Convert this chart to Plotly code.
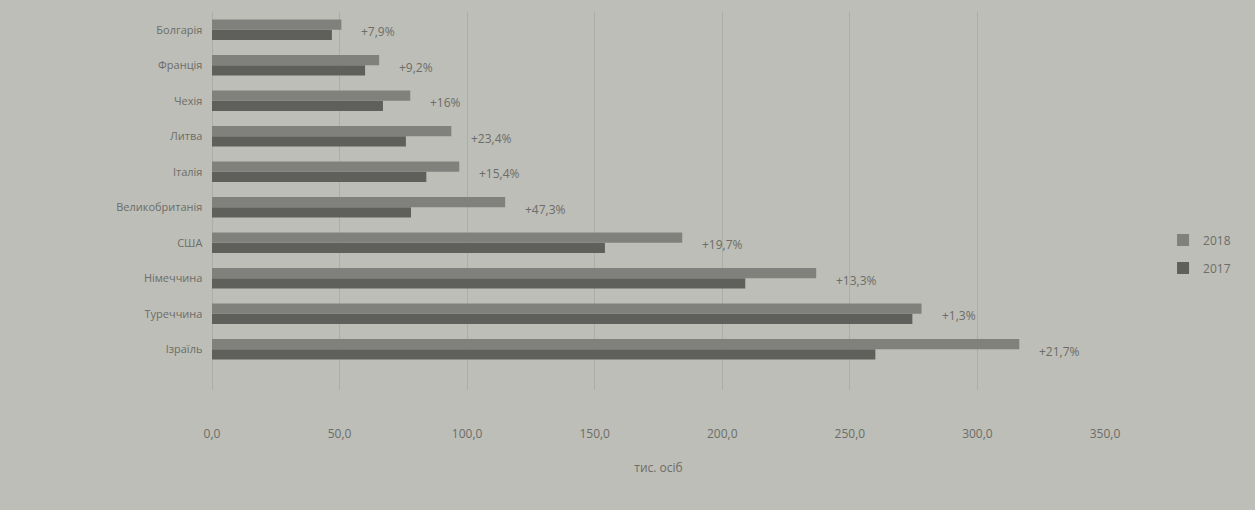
import plotly.graph_objects as go

# Countries, bottom-to-top order on the category axis
countries = ["Ізраїль", "Туреччина", "Німеччина", "США", "Великобританія",
             "Італія", "Литва", "Чехія", "Франція", "Болгарія"]

# Visitors, thousand persons
visitors_2017 = [260.0, 274.5, 209.0, 154.0, 78.0, 84.0, 76.0, 67.0, 60.0, 47.0]
visitors_2018 = [316.4, 278.1, 236.8, 184.3, 114.9, 96.9, 93.8, 77.7, 65.5, 50.7]

# Year-on-year change labels
change_labels = ["+21,7%", "+1,3%", "+13,3%", "+19,7%", "+47,3%",
                 "+15,4%", "+23,4%", "+16%", "+9,2%", "+7,9%"]

x_ticks = [0, 50, 100, 150, 200, 250, 300, 350]
x_tick_text = ["0,0", "50,0", "100,0", "150,0", "200,0", "250,0", "300,0", "350,0"]

BG = "#bdbeb7"
TEXT = "#6c6d68"
FONT = "Open Sans"

fig = go.Figure()
fig.add_trace(go.Bar(
    y=countries, x=visitors_2017, orientation="h", name="2017",
    legendgroup="y2017", legendrank=2,
    marker=dict(color="#5f605c", line=dict(width=0)),
))
fig.add_trace(go.Bar(
    y=countries, x=visitors_2018, orientation="h", name="2018",
    legendgroup="y2018", legendrank=1,
    marker=dict(color="#80817c", line=dict(width=0)),
))

for c, v, lab in zip(countries, visitors_2018, change_labels):
    fig.add_annotation(
        x=v, y=c, text=lab, showarrow=False, xanchor="left", yanchor="middle",
        xshift=18, yshift=-2, font=dict(family=FONT, size=12, color=TEXT),
    )

fig.update_layout(
    width=1255, height=510,
    margin=dict(l=212, r=150, t=12, b=120),
    paper_bgcolor=BG, plot_bgcolor=BG,
    barmode="group", bargap=0.42, bargroupgap=0.0,
    font=dict(family=FONT, size=12, color=TEXT),
    showlegend=True,
    legend=dict(
        x=1.065, y=0.36, xanchor="left", yanchor="middle",
        traceorder="grouped", bgcolor="rgba(0,0,0,0)",
        font=dict(family=FONT, size=12, color=TEXT),
        itemwidth=30, tracegroupgap=9,
    ),
    xaxis=dict(
        range=[0, 350], tickvals=x_ticks, ticktext=x_tick_text,
        showgrid=True, gridcolor="#acada6", gridwidth=1,
        zeroline=True, zerolinecolor="#acada6", zerolinewidth=1,
        showline=False, ticks="", ticklabelstandoff=35,
        tickfont=dict(family=FONT, size=12, color=TEXT),
        title=dict(text="тис. осіб", standoff=22,
                   font=dict(family=FONT, size=12, color=TEXT)),
    ),
    yaxis=dict(
        range=[-1.15, 9.5], showgrid=False, zeroline=False, showline=False,
        ticks="", ticksuffix="   ",
        tickfont=dict(family=FONT, size=11, color=TEXT),
    ),
)

fig.write_html("out.html")
